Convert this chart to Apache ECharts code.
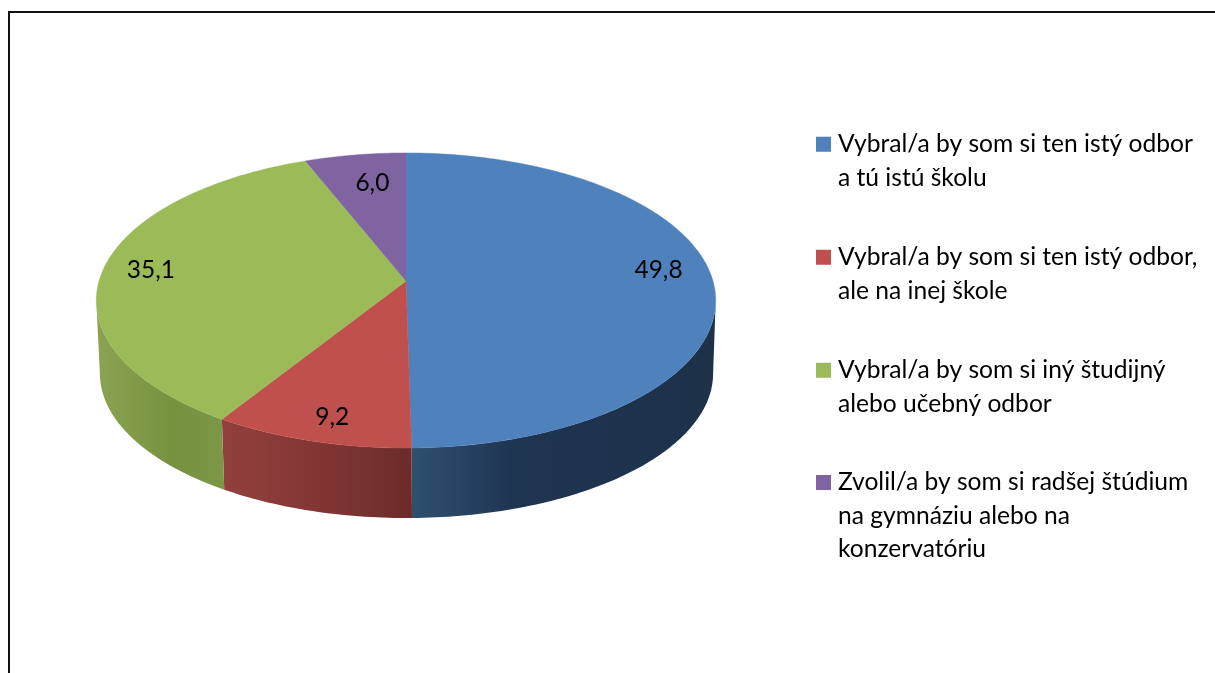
<!DOCTYPE html>
<html>
<head>
<meta charset="utf-8">
<style>html,body{margin:0;padding:0;background:#fff}#c{width:1215px;height:673px}</style>
<script src="https://cdn.jsdelivr.net/npm/echarts@6/dist/echarts.min.js"></script>
</head>
<body>
<div id="c"></div>
<script>
const categories = [
  'Vybral/a by som si ten istý odbor\na tú istú školu',
  'Vybral/a by som si ten istý odbor,\nale na inej škole',
  'Vybral/a by som si iný študijný\nalebo učebný odbor',
  'Zvolil/a by som si radšej štúdium\nna gymnáziu alebo na\nkonzervatóriu'
];
const values = [49.8, 9.2, 35.1, 6.0];
const valueLabels = ['49,8', '9,2', '35,1', '6,0'];
const colors = ['#4f81bd', '#c0504d', '#9bbb59', '#8064a2'];
const sideStops = [
  [[0, '#2f5071'], [0.35, '#1e3450'], [1, '#1d3249']],
  [[0, '#93403d'], [0.5, '#823634'], [1, '#6b2b29']],
  [[0, '#8ba352'], [0.6, '#76923f'], [1, '#7c9846']],
  [[0, '#4c3c61'], [1, '#4c3c61']]
];
// Projection of the tilted disc
const disc = { cx: 406, cy: 281, rx: 307, ry: 145, tilt: -0.132, depthX: 0.5, depthY: 73.3, depthScaleX: 0.99, depthScaleY: 0.98 };
const labelRadius = 0.82;
const labelNudge = [[1, -10], [2, 8], [-7, 0], [9, 8]];
const total = values.reduce((a, b) => a + b, 0);
// Fractions of the turn at which the rim is widest: only the arc between them faces the viewer
const frontStart = Math.acos(disc.tilt) / (2 * Math.PI);
const frontEnd = 1 - frontStart;

function project(frac, r) {
  const a = frac * 2 * Math.PI;
  const x = r * Math.sin(a), y = -r * Math.cos(a);
  const d = 1 + disc.tilt * y;
  return [disc.rx * x / d, disc.ry * y / d];
}
function arc(f0, f1) {
  const n = Math.max(2, Math.ceil((f1 - f0) * 360));
  const pts = [];
  for (let i = 0; i <= n; i++) pts.push(project(f0 + (f1 - f0) * i / n, 1));
  return pts;
}
function renderSlice(params, api) {
  const i = params.seriesIndex;
  const val = api.value(0);
  let before = 0;
  for (let k = 0; k < i; k++) before += values[k];
  const f0 = before / total, f1 = (before + val) / total;
  const outer = arc(f0, f1);
  const top = [[disc.cx, disc.cy]].concat(outer.map(p => [disc.cx + p[0], disc.cy + p[1]]));
  const children = [
    { type: 'polygon', z2: 5, shape: { points: top }, style: { fill: colors[i], stroke: colors[i], lineWidth: 0.4 } }
  ];
  const s0 = Math.max(f0, frontStart), s1 = Math.min(f1, frontEnd);
  if (s1 > s0) {
    const rim = arc(s0, s1);
    const upper = rim.map(p => [disc.cx + p[0], disc.cy + p[1]]);
    const lower = rim.map(p => [disc.cx + disc.depthX + p[0] * disc.depthScaleX, disc.cy + disc.depthY + p[1] * disc.depthScaleY]);
    const xs = upper.concat(lower).map(p => p[0]);
    const minX = Math.min.apply(null, xs), maxX = Math.max.apply(null, xs);
    children.push({
      type: 'polygon', z2: 1, shape: { points: upper.concat(lower.slice().reverse()) },
      style: { fill: {
        type: 'linear', global: true, x: minX, y: 0, x2: maxX, y2: 0,
        colorStops: sideStops[i].map(s => ({ offset: s[0], color: s[1] }))
      } }
    });
  }
  const mid = project((f0 + f1) / 2, labelRadius);
  children.push({ type: 'text', z2: 10, style: {
    x: disc.cx + mid[0] + labelNudge[i][0], y: disc.cy + mid[1] + labelNudge[i][1],
    text: valueLabels[i], fill: '#000', font: '24.5px Lato', align: 'center', verticalAlign: 'middle' } });
  return { type: 'group', children };
}

const chart = echarts.init(document.getElementById('c'), null, { renderer: 'canvas' });
const swatch2 = 'path://M0 25.75H15V40.75H0Z M0 0L15 0Z M0 100L15 100Z';
const swatch3 = 'path://M0 9.25H15V24.25H0Z M0 0L15 0Z M0 100L15 100Z';
chart.setOption({
  animation: false,
  backgroundColor: '#ffffff',
  legend: {
    orient: 'vertical', left: 816, top: 111, padding: 0, itemWidth: 15, itemHeight: 100, itemGap: 13,
    selectedMode: false, align: 'left',
    textStyle: { fontFamily: 'Lato', fontSize: 24.6, color: '#000', lineHeight: 33.5, padding: [0, 0, 0, 2] },
    data: categories.map((name, i) => ({
      name, icon: i === 3 ? swatch3 : swatch2, itemStyle: { color: colors[i] },
      textStyle: i === 3 ? { padding: [31, 0, 0, 2] } : undefined
    }))
  },
  graphic: [{
    type: 'polyline', silent: true,
    shape: { points: [[9, 673], [9, 12], [1215, 12]] },
    style: { stroke: '#111', lineWidth: 2, fill: null }
  }],
  series: categories.map((name, i) => ({
    type: 'custom', name, coordinateSystem: 'none', silent: true,
    itemStyle: { color: colors[i] }, renderItem: renderSlice, data: [values[i]]
  }))
});
</script>
</body>
</html>
